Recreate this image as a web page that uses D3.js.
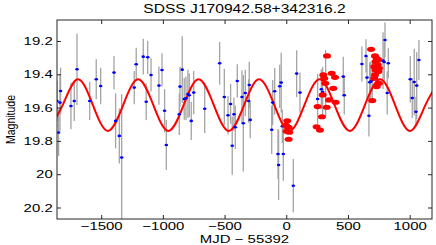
<!DOCTYPE html>
<html>
<head>
<meta charset="utf-8">
<script src="https://cdn.jsdelivr.net/npm/d3@7"></script>
<style>
  html, body { margin: 0; padding: 0; background: #fff; }
  text { font-family: "Liberation Sans", Arial, sans-serif; fill: #000; }
</style>
</head>
<body>
<div id="chart"></div>
<script>
const W = 436, H = 245;
const margin = { top: 20, right: 4, bottom: 26, left: 57 };
const width = W - margin.left - margin.right;
const height = H - margin.top - margin.bottom;
const stretch = 1.3; // glyphs in the reference are wider than tall

// ! photometry points (blue, with error bars)
const blueT = [-1858, -1834, -1829, -1845, -1745, -1718, -1696, -1593, -1540, -1504, -1396, -1383, -1353, -1334, -1232,
  -1216, -1159, -1123, -1096, -1135, -1032, -1007, -986, -972, -867, -861, -843, -827, -813, -797, -786, -770, -750, -661,
  -540, -502, -472, -451, -438, -424, -413, -397, -359, -348, -332, -305, -300, -292, -118, -110, -94, -53, -41, -32, -67, -62, -24,
  57, 84, 111, 254, 284, 295, 319, 462, 470,
  613, 646, 654, 676, 684, 697, 670, 800, 784, 794, 827, 818, 1005, 1021, 1037, 1057, 1051, 1075];
const blueM = [19.56, 19.57, 19.50, 19.75, 19.59, 19.56, 19.37, 19.56, 19.43, 19.47, 19.39, 19.68, 19.77, 19.90, 19.48,
  19.34, 19.294, 19.298, 19.404, 19.565, 19.468, 19.374, 19.619, 19.825, 19.64, 19.474, 19.372, 19.548, 19.544, 19.518, 19.526, 19.68, 19.51, 19.607,
  19.334, 19.536, 19.646, 19.578, 19.829, 19.64, 19.718, 19.44, 19.536, 19.694, 19.512, 19.56, 19.464, 19.674, 19.733, 19.57, 19.502, 19.472, 19.45, 19.712, 19.879, 19.945, 19.879,
  20.069, 19.396, 19.51, 19.548, 19.49, 19.506, 19.454, 19.414, 19.526,
  19.338, 19.29, 19.42, 19.448, 19.444, 19.436, 19.649, 19.194, 19.318, 19.326, 19.334, 19.512, 19.43, 19.542, 19.446, 19.468, 19.625, 19.314];
const blueE = [0.12, 0.17, 0.14, 0.14, 0.14, 0.12, 0.215, 0.115, 0.12, 0.11, 0.10, 0.165, 0.165, 0.38, 0.10,
  0.10, 0.108, 0.10, 0.10, 0.11, 0.115, 0.10, 0.13, 0.15, 0.125, 0.12, 0.2, 0.125, 0.13, 0.145, 0.13, 0.115, 0.13, 0.145,
  0.128, 0.17, 0.115, 0.12, 0.175, 0.10, 0.13, 0.10, 0.16, 0.29, 0.14, 0.13, 0.14, 0.11, 0.145, 0.135, 0.14, 0.13, 0.18, 0.10, 0.15, 0.21, 0.16,
  0.16, 0.14, 0.12, 0.15, 0.12, 0.15, 0.2, 0.12, 0.115,
  0.105, 0.1, 0.13, 0.12, 0.12, 0.12, 0.125, 0.105, 0.17, 0.12, 0.09, 0.13, 0.14, 0.12, 0.2, 0.2, 0.09, 0.12];

// ! red points (second survey)
const redT = [8, -2, 19, 3, 24, 19,
  330, 300, 368, 395, 381, 346, 327, 400, 254, 289, 246, 273, 308, 316, 295,
  687, 719, 733, 724, 746, 713, 741, 724, 746, 719, 713, 751, 751, 733, 697];
const redM = [19.679, 19.706, 19.718, 19.742, 19.748, 19.79,
  19.29, 19.404, 19.394, 19.418, 19.484, 19.554, 19.598, 19.568, 19.594, 19.655, 19.715, 19.735, 19.424, 19.454, 19.524,
  19.25, 19.29, 19.304, 19.324, 19.314, 19.354, 19.344, 19.374, 19.384, 19.404, 19.424, 19.364, 19.454, 19.474, 19.558];

// ! periodic model curve, read at its extrema and mid crossings
const curveT = [-1935, -1812, -1690, -1567, -1445, -1322, -1200, -1077, -955, -832, -710, -587, -465, -342,
  -220, -97, 25, 147, 270, 392, 515, 637, 760, 882, 1005, 1127, 1250];
const curveM = [19.74, 19.585, 19.43, 19.585, 19.74, 19.585, 19.43, 19.585, 19.74, 19.585, 19.43, 19.585, 19.74, 19.585,
  19.43, 19.585, 19.74, 19.585, 19.43, 19.585, 19.74, 19.585, 19.43, 19.585, 19.74, 19.585, 19.43];

// ! ticks
const xTicks = [-1500, -1000, -500, 0, 500, 1000];
const xTickLabels = ["\u22121500", "\u22121000", "\u2212500", "0", "500", "1000"];
const yTicks = [19.2, 19.4, 19.6, 19.8, 20, 20.2];
const yTickLabels = ["19.2", "19.4", "19.6", "19.8", "20", "20.2"];

const x = d3.scaleLinear().domain([-1858, 1181]).range([0, width]);
const y = d3.scaleLinear().domain([19.074, 20.269]).range([0, height]);

const svg = d3.select("#chart").append("svg")
  .attr("width", W).attr("height", H);

const g = svg.append("g")
  .attr("transform", `translate(${margin.left},${margin.top})`);

g.append("clipPath").attr("id", "clip")
  .append("rect").attr("width", width).attr("height", height);

const plot = g.append("g").attr("clip-path", "url(#clip)");

// error bars
const blue = blueT.map((t, i) => ({ t, m: blueM[i], e: blueE[i] }));
plot.selectAll(".err").data(blue).enter().append("line")
  .attr("x1", d => x(d.t)).attr("x2", d => x(d.t))
  .attr("y1", d => y(d.m - d.e)).attr("y2", d => y(d.m + d.e))
  .attr("stroke", "#a4a4a4").attr("stroke-width", 1.3);

// model curve
const line = d3.line().x(d => x(d[0])).y(d => y(d[1])).curve(d3.curveNatural);
plot.append("path")
  .datum(curveT.map((t, i) => [t, curveM[i]]))
  .attr("fill", "none").attr("stroke", "#ff0000").attr("stroke-width", 2)
  .attr("d", line);

// blue points
plot.selectAll(".pt").data(blue).enter().append("ellipse")
  .attr("cx", d => x(d.t)).attr("cy", d => y(d.m))
  .attr("rx", 1.8).attr("ry", 1.3).attr("fill", "#0000ff");

// red points
plot.selectAll(".red").data(redT.map((t, i) => ({ t, m: redM[i] }))).enter().append("ellipse")
  .attr("cx", d => x(d.t)).attr("cy", d => y(d.m))
  .attr("rx", 4).attr("ry", 2.6).attr("fill", "#ff0000");

// axes, ticks pointing inward on all sides
const xb = g.append("g").attr("transform", `translate(0,${height})`)
  .call(d3.axisBottom(x).tickValues(xTicks).tickFormat((d, i) => xTickLabels[i])
    .tickSizeInner(-4).tickSizeOuter(0).tickPadding(2.5));
g.append("g")
  .call(d3.axisTop(x).tickValues(xTicks).tickFormat("").tickSizeInner(-4).tickSizeOuter(0));
const yl = g.append("g")
  .call(d3.axisLeft(y).tickValues(yTicks).tickFormat((d, i) => yTickLabels[i])
    .tickSizeInner(-4).tickSizeOuter(0));
g.append("g").attr("transform", `translate(${width},0)`)
  .call(d3.axisRight(y).tickValues(yTicks).tickFormat("").tickSizeInner(-4).tickSizeOuter(0));

g.selectAll(".domain").remove();
g.selectAll(".tick line").attr("stroke", "#262626");
xb.selectAll("text").attr("font-size", 11.5).attr("fill", "#000")
  .attr("transform", `scale(${stretch},1)`);
yl.selectAll("text").attr("font-size", 11.5).attr("fill", "#000")
  .attr("x", -4.3 / stretch).attr("transform", `scale(${stretch},1)`);

g.append("rect").attr("width", width).attr("height", height)
  .attr("fill", "none").attr("stroke", "#262626").attr("stroke-width", 1);

// title and labels
svg.append("text")
  .attr("transform", `translate(${margin.left + width / 2},13.3) scale(${stretch},1)`)
  .attr("text-anchor", "middle").attr("font-size", 12)
  .text("SDSS J170942.58+342316.2");

svg.append("text")
  .attr("transform", `translate(${margin.left + width / 2},243) scale(${stretch},1)`)
  .attr("text-anchor", "middle").attr("font-size", 11.5)
  .text("MJD \u2212 55392");

svg.append("text")
  .attr("transform", `translate(14.5,${margin.top + height / 2}) rotate(-90) scale(1,${stretch})`)
  .attr("text-anchor", "middle").attr("font-size", 10.5)
  .text("Magnitude");
</script>
</body>
</html>
